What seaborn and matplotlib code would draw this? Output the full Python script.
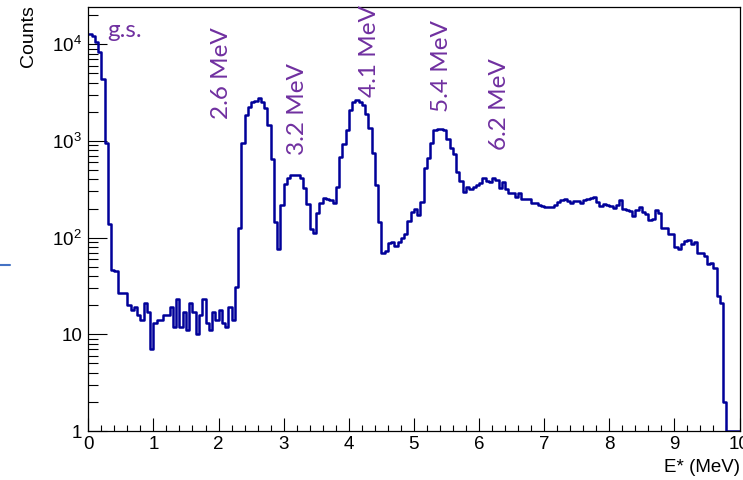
import numpy as np
import pandas as pd
import matplotlib
matplotlib.use("Agg")
import matplotlib.pyplot as plt
import seaborn as sns
from matplotlib.ticker import FixedLocator, FixedFormatter, LogLocator, MultipleLocator, NullFormatter
from matplotlib.lines import Line2D

# ---------------- data ----------------
bin_width = 0.05  # MeV
x_range = (0.0, 10.0)
counts = [
    12900, 12150, 10600, 8300, 4400, 950, 138, 46, 45, 27,
    27, 27, 20, 18, 19, 16, 14, 21, 17, 7,
    13, 14, 14, 16, 16, 19, 12, 23, 12, 17,
    11, 21, 17, 10, 16, 23, 13, 11, 17, 14,
    18, 13, 12, 19, 14, 31, 125, 944, 1850, 2260,
    2540, 2600, 2800, 2550, 2200, 1460, 650, 146, 76, 215,
    356, 410, 444, 444, 444, 410, 324, 222, 123, 112,
    178, 226, 258, 252, 245, 230, 330, 687, 930, 1300,
    2080, 2500, 2650, 2550, 2350, 1880, 1350, 745, 350, 146,
    70, 72, 88, 91, 82, 91, 100, 108, 149, 185,
    198, 171, 235, 528, 660, 950, 1300, 1330, 1330, 1300,
    1050, 850, 726, 481, 385, 298, 336, 318, 336, 350,
    364, 410, 385, 378, 410, 390, 324, 378, 318, 287,
    287, 265, 287, 251, 251, 249, 230, 230, 215, 212,
    206, 206, 205, 220, 235, 245, 248, 240, 230, 238,
    240, 228, 245, 250, 255, 263, 235, 212, 222, 220,
    210, 201, 217, 245, 196, 192, 190, 167, 193, 209,
    185, 175, 152, 155, 193, 180, 127, 125, 108, 108,
    80, 76, 86, 92, 95, 85, 91, 70, 69, 64,
    53, 55, 48, 25, 21, 2, 0, 0, 0, 0,
]
peak_labels = ["2.6 MeV", "3.2 MeV", "4.1 MeV", "5.4 MeV", "6.2 MeV"]
gs_label = "g.s."
x_ticks = list(range(0, 11))
y_ticks = [1, 10, 100, 1000, 10000]
y_ticklabels = ["1", "10", r"$\mathregular{10^{2}}$", r"$\mathregular{10^{3}}$", r"$\mathregular{10^{4}}$"]
x_title = "E* (MeV)"
y_title = "Counts"

# ---------------- style ----------------
sns.set_theme(style="ticks")
plt.rcParams['font.family'] = ['Liberation Sans', 'DejaVu Sans']
plt.rcParams['mathtext.fontset'] = 'custom'
plt.rcParams['mathtext.rm'] = 'Liberation Sans'
plt.rcParams['mathtext.it'] = 'Liberation Sans:italic'
plt.rcParams['mathtext.bf'] = 'Liberation Sans:bold'

W, H = 743, 480
fig = plt.figure(figsize=(W / 100, H / 100), dpi=100)
fig.patch.set_facecolor("white")
ax = fig.add_axes([88.3 / W, 1 - 431 / H, (739.5 - 88.3) / W, (431 - 7.3) / H])
ax.set_facecolor("white")

counts_arr = np.array(counts, dtype=float)
n_bins = len(counts_arr)
centers = x_range[0] + (np.arange(n_bins) + 0.5) * bin_width
df = pd.DataFrame({"E": centers, "counts": np.where(counts_arr > 0, counts_arr, 1.0)})

sns.histplot(data=df, x="E", weights="counts", binwidth=bin_width, binrange=x_range,
             element="step", fill=False, color="#000099", linewidth=1.8, ax=ax)

ax.set_yscale("log")
ax.set_xlim(*x_range)
ax.set_ylim(1, 24100)
ax.set_xlabel("")
ax.set_ylabel("")

ax.xaxis.set_major_locator(FixedLocator(x_ticks))
ax.xaxis.set_minor_locator(MultipleLocator(0.2))
ax.yaxis.set_major_locator(FixedLocator(y_ticks))
ax.yaxis.set_major_formatter(FixedFormatter(y_ticklabels))
ax.yaxis.set_minor_locator(LogLocator(base=10, subs=np.arange(2, 10)))
ax.yaxis.set_minor_formatter(NullFormatter())

ax.tick_params(axis="x", which="major", direction="in", length=9.2, width=0.8,
               labelsize=13.5, pad=3.6, color="black", labelcolor="black")
ax.tick_params(axis="x", which="minor", direction="in", length=4.6, width=0.8, color="black")
ax.tick_params(axis="y", which="major", direction="in", length=14, width=0.8,
               labelsize=13.5, pad=4.5, color="black", labelcolor="black")
ax.tick_params(axis="y", which="minor", direction="in", length=7, width=0.8, color="black")
for s in ax.spines.values():
    s.set_color("black")
    s.set_linewidth(0.9)

# axis titles (ROOT style, aligned to the ends)
fig.text(29 / W, 1 - 5 / H, y_title, rotation=90, ha="center", va="top", fontsize=14, color="black")
fig.text(740 / W, 1 - 468 / H, x_title, ha="right", va="center", fontsize=13.5, color="black")

# purple annotations
purple = "#7030A0"
pfont = dict(family=["Lato", "DejaVu Sans"], fontsize=17.5, color=purple)
fig.text(107 / W, 1 - 37 / H, gs_label, ha="left", va="baseline", **pfont)
label_pos = [(221, 119), (297, 155), (370, 97), (442, 112), (500, 150)]
for lab, (px, py) in zip(peak_labels, label_pos):
    fig.text(px / W, 1 - py / H, lab, rotation=90, ha="center", va="bottom", **pfont)

# small slide artefact at left edge
fig.add_artist(Line2D([0, 10 / W], [1 - 265 / H, 1 - 265 / H], color="#4472C4", lw=1.5))

fig.savefig("out.png", dpi=100, facecolor="white")
